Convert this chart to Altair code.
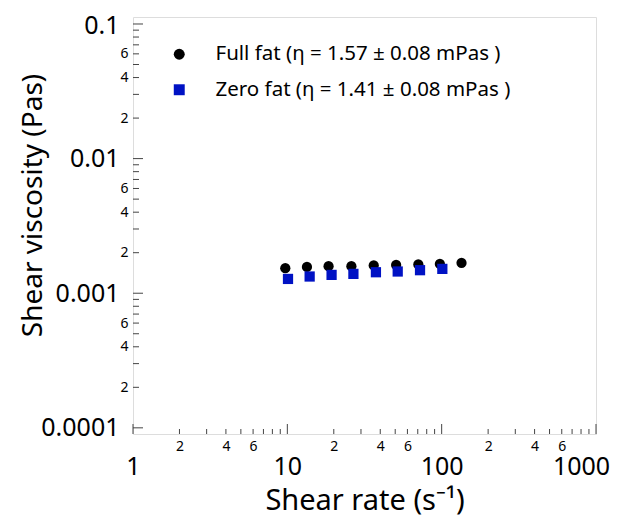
import altair as alt
import pandas as pd

# ---- data ----
full_label = "Full fat (η = 1.57 ± 0.08 mPas )"
zero_label = "Zero fat (η = 1.41 ± 0.08 mPas )"

full_rate = [9.7, 13.4, 18.5, 26.0, 36.3, 50.7, 70.6, 97.4, 134.5]
full_visc = [1.535e-3, 1.569e-3, 1.587e-3, 1.587e-3, 1.607e-3, 1.623e-3, 1.635e-3, 1.651e-3, 1.680e-3]

zero_rate = [10.1, 13.95, 19.35, 26.8, 37.5, 51.9, 72.4, 101.0]
zero_visc = [1.277e-3, 1.331e-3, 1.368e-3, 1.392e-3, 1.432e-3, 1.450e-3, 1.483e-3, 1.516e-3]

x_major = [1, 10, 100, 1000]
x_minor = [2, 3, 4, 5, 6, 7, 8, 9, 20, 30, 40, 50, 60, 70, 80, 90, 200, 300, 400, 500, 600, 700, 800, 900]
x_labels = [1, 2, 4, 6, 10, 20, 40, 60, 100, 200, 400, 600, 1000]

y_major = [0.0001, 0.001, 0.01, 0.1]
y_minor = [0.0002, 0.0003, 0.0004, 0.0005, 0.0006, 0.0007, 0.0008, 0.0009,
           0.002, 0.003, 0.004, 0.005, 0.006, 0.007, 0.008, 0.009,
           0.02, 0.03, 0.04, 0.05, 0.06, 0.07, 0.08, 0.09]
y_labels = [0.0001, 0.0002, 0.0004, 0.0006, 0.001, 0.002, 0.004, 0.006,
            0.01, 0.02, 0.04, 0.06, 0.1]

W, H = 463, 417
FONT = "Noto Sans"

df = pd.DataFrame({
    "rate": full_rate + zero_rate,
    "visc": full_visc + zero_visc,
    "series": [full_label] * len(full_rate) + [zero_label] * len(zero_rate),
})

xs = alt.Scale(type="log", domain=[1, 1000], nice=False)
ys = alt.Scale(type="log", domain=[9.0e-5, 0.1127], nice=False)

MAJOR = "abs(log(datum.value)/LN10 - round(log(datum.value)/LN10)) < 0.001"
LABEL = ("(" + MAJOR + ") ? format(datum.value, '~g') : "
         "'' + round(datum.value / pow(10, floor(log(datum.value)/LN10 + 0.001)))")

x_axis = alt.Axis(
    values=x_labels, labelExpr=LABEL, ticks=False, domain=False, grid=False,
    labelOverlap=False, labelFlush=False, labelBound=False, labelColor="black",
    labelFont=FONT, labelBaseline="top",
    labelFontSize={"condition": {"test": MAJOR, "value": 25}, "value": 14},
    labelPadding={"condition": {"test": MAJOR, "value": 20}, "value": 5},
    labelOffset={"condition": {"test": "datum.value > 999", "value": -15}, "value": 0},
    title="Shear rate (s⁻¹)", titleFont=FONT, titleFontSize=29,
    titleFontWeight="normal", titleColor="black",
    titleBaseline="alphabetic", titleX=W / 2, titleY=75,
)
y_axis = alt.Axis(
    values=y_labels, labelExpr=LABEL, ticks=False, domain=False, grid=False,
    labelOverlap=False, labelFlush=False, labelBound=False, labelColor="black",
    labelFont=FONT, labelBaseline="middle", labelAlign="right",
    labelFontSize={"condition": {"test": MAJOR, "value": 25}, "value": 14},
    labelPadding={"condition": {"test": MAJOR, "value": 14}, "value": 5},
    labelOffset={"condition": {"test": "datum.value > 0.09", "value": 2}, "value": 0},
    title="Shear viscosity (Pas)", titleFont=FONT, titleFontSize=28,
    titleFontWeight="normal", titleColor="black", titleAngle=270,
    titleBaseline="alphabetic", titleAlign="center", titleX=-92, titleY=188,
)

legend = alt.Legend(
    title=None, orient="none", legendX=36, legendY=27, padding=0,
    labelFont=FONT, labelFontSize=20.5, labelColor="black", labelLimit=500,
    labelOffset=26, rowPadding=14.5, symbolSize=120, symbolStrokeWidth=0,
    symbolOpacity=1,
)

points = alt.Chart(df).mark_point(filled=True, opacity=1, size=105, strokeWidth=0).encode(
    x=alt.X("rate:Q", scale=xs, axis=x_axis),
    y=alt.Y("visc:Q", scale=ys, axis=y_axis),
    color=alt.Color("series:N", scale=alt.Scale(domain=[full_label, zero_label],
                                                range=["#000000", "#0012c4"]), legend=legend),
    shape=alt.Shape("series:N", scale=alt.Scale(domain=[full_label, zero_label],
                                                range=["circle", "square"]), legend=legend),
)

TICK = "#444444"

def xticks(vals, length):
    return alt.Chart(pd.DataFrame({"rate": vals})).mark_rule(color=TICK, strokeWidth=1).encode(
        x=alt.X("rate:Q", scale=xs, axis=x_axis),
        y=alt.value(H), y2=alt.value(H - length),
    )

def yticks(vals, length):
    return alt.Chart(pd.DataFrame({"visc": vals})).mark_rule(color=TICK, strokeWidth=1).encode(
        y=alt.Y("visc:Q", scale=ys, axis=y_axis),
        x=alt.value(0), x2=alt.value(length),
    )

chart = alt.layer(
    points,
    xticks(x_major, 10), xticks(x_minor, 5),
    yticks(y_major, 10), yticks(y_minor, 6),
).properties(
    width=W, height=H,
    autosize=alt.AutoSizeParams(type="none"),
    padding={"left": 125, "top": 9, "right": 17, "bottom": 83},
).configure_view(stroke="#8a8a8a", strokeWidth=1.5).configure(font=FONT)

chart.save("out.html", embed_options={"renderer": "svg", "actions": False})
